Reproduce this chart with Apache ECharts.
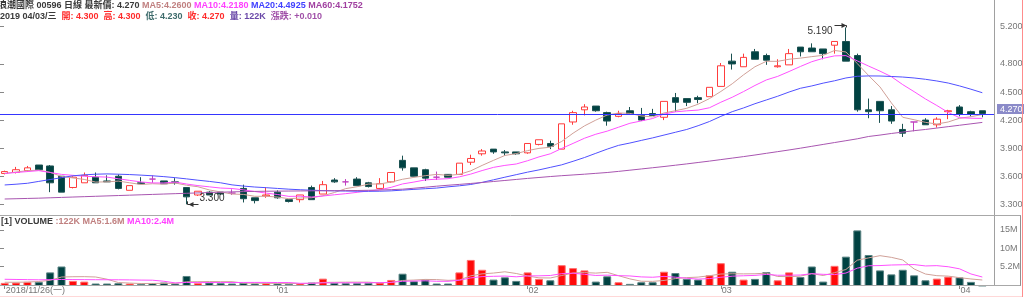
<!DOCTYPE html>
<html><head><meta charset="utf-8">
<script src="https://cdn.jsdelivr.net/npm/echarts@6/dist/echarts.min.js"></script>
<style>html,body{margin:0;padding:0;background:#fff;overflow:hidden}#c{width:1024px;height:297px}</style>
</head><body><div id="c"></div>
<script>
const dates = ['2018/11/26','2018/11/27','2018/11/28','2018/11/29','2018/11/30',
'2018/12/03','2018/12/04','2018/12/05','2018/12/06','2018/12/07',
'2018/12/10','2018/12/11','2018/12/12','2018/12/13','2018/12/14',
'2018/12/17','2018/12/18','2018/12/19','2018/12/20','2018/12/21',
'2018/12/24','2018/12/27','2018/12/28','2018/12/31',
'2019/01/02','2019/01/03','2019/01/04','2019/01/07','2019/01/08','2019/01/09','2019/01/10','2019/01/11',
'2019/01/14','2019/01/15','2019/01/16','2019/01/17','2019/01/18',
'2019/01/21','2019/01/22','2019/01/23','2019/01/24','2019/01/25',
'2019/01/28','2019/01/29','2019/01/30','2019/01/31',
'2019/02/01','2019/02/04','2019/02/08',
'2019/02/11','2019/02/12','2019/02/13','2019/02/14','2019/02/15',
'2019/02/18','2019/02/19','2019/02/20','2019/02/21','2019/02/22',
'2019/02/25','2019/02/26','2019/02/27','2019/02/28',
'2019/03/01',
'2019/03/04','2019/03/05','2019/03/06','2019/03/07','2019/03/08',
'2019/03/11','2019/03/12','2019/03/13','2019/03/14','2019/03/15',
'2019/03/18','2019/03/19','2019/03/20','2019/03/21','2019/03/22',
'2019/03/25','2019/03/26','2019/03/27','2019/03/28','2019/03/29',
'2019/04/01','2019/04/02','2019/04/03'];

const opens = [3.63,3.64,3.66,3.72,3.71,3.60,3.48,3.53,3.59,3.55,
3.60,3.45,3.53,3.57,3.55,3.54,3.48,3.40,3.43,3.43,
3.42,3.47,3.37,3.39,3.43,3.35,3.35,3.48,3.41,3.56,
3.54,3.57,3.53,3.47,3.54,3.77,3.69,3.67,3.59,3.62,
3.62,3.75,3.84,3.89,3.86,3.86,3.85,3.94,3.95,3.89,
4.18,4.31,4.35,4.28,4.24,4.30,4.25,4.27,4.23,4.44,
4.43,4.44,4.45,4.56,4.83,4.77,4.93,4.89,4.77,4.79,
4.98,4.97,4.96,5.00,5.04,4.89,4.31,4.40,4.31,4.10,
4.18,4.20,4.15,4.29,4.34,4.29,4.30];
const closes = [3.65,3.67,3.69,3.67,3.53,3.43,3.59,3.61,3.53,3.54,
3.47,3.50,3.52,3.57,3.52,3.53,3.38,3.44,3.40,3.41,
3.42,3.36,3.34,3.40,3.37,3.33,3.40,3.35,3.51,3.54,
3.54,3.50,3.49,3.52,3.64,3.69,3.60,3.58,3.59,3.59,
3.74,3.79,3.87,3.86,3.85,3.84,3.95,3.99,3.92,4.16,
4.28,4.34,4.30,4.19,4.27,4.26,4.20,4.25,4.40,4.39,
4.39,4.42,4.55,4.78,4.80,4.87,4.85,4.84,4.78,4.91,
4.93,4.93,4.91,5.04,4.83,4.31,4.29,4.30,4.19,4.06,
4.18,4.15,4.21,4.30,4.26,4.26,4.27];
const lows = [3.62,3.63,3.65,3.67,3.43,3.43,3.47,3.53,3.53,3.54,
3.46,3.45,3.52,3.53,3.52,3.51,3.30,3.39,3.40,3.40,
3.40,3.32,3.31,3.37,3.36,3.32,3.32,3.35,3.41,3.53,
3.50,3.50,3.48,3.46,3.53,3.66,3.60,3.55,3.56,3.59,
3.62,3.72,3.82,3.84,3.82,3.83,3.84,3.93,3.89,3.89,
4.15,4.25,4.29,4.14,4.23,4.26,4.19,4.25,4.20,4.29,
4.35,4.38,4.45,4.56,4.74,4.77,4.85,4.79,4.76,4.79,
4.88,4.93,4.85,4.91,4.83,4.29,4.22,4.17,4.16,4.02,
4.08,4.15,4.12,4.21,4.24,4.24,4.23];
const highs = [3.66,3.70,3.71,3.72,3.72,3.60,3.60,3.64,3.64,3.61,
3.62,3.50,3.59,3.61,3.55,3.58,3.48,3.44,3.44,3.43,
3.46,3.51,3.37,3.48,3.45,3.35,3.40,3.50,3.55,3.58,
3.57,3.59,3.54,3.58,3.64,3.82,3.69,3.68,3.65,3.62,
3.74,3.83,3.89,3.89,3.88,3.86,3.95,3.99,3.98,4.16,
4.30,4.37,4.35,4.29,4.30,4.34,4.33,4.32,4.40,4.49,
4.43,4.46,4.55,4.81,4.91,4.91,4.96,4.91,4.85,4.96,
4.98,5.02,4.96,5.04,5.19,4.91,4.43,4.40,4.35,4.16,
4.18,4.22,4.23,4.31,4.36,4.30,4.30];

const ma5 = [3.630,3.645,3.660,3.665,3.642,3.598,3.582,3.566,3.538,3.540,
3.548,3.530,3.512,3.520,3.516,3.528,3.504,3.488,3.454,3.432,
3.410,3.406,3.386,3.386,3.378,3.360,3.368,3.370,3.392,3.426,
3.468,3.488,3.516,3.518,3.538,3.568,3.588,3.606,3.620,3.610,
3.620,3.658,3.716,3.770,3.822,3.842,3.874,3.898,3.910,3.972,
4.060,4.138,4.200,4.254,4.276,4.272,4.244,4.234,4.276,4.300,
4.326,4.370,4.430,4.506,4.588,4.684,4.770,4.828,4.828,4.850,
4.862,4.878,4.892,4.944,4.928,4.804,4.676,4.554,4.384,4.230,
4.204,4.176,4.158,4.180,4.220,4.236,4.260];
const ma10 = [3.630,3.640,3.650,3.660,3.640,3.620,3.610,3.600,3.595,3.591,
3.573,3.556,3.539,3.529,3.528,3.538,3.517,3.500,3.487,3.474,
3.469,3.455,3.437,3.420,3.405,3.385,3.387,3.378,3.389,3.402,
3.414,3.428,3.443,3.455,3.482,3.518,3.538,3.561,3.569,3.574,
3.594,3.623,3.661,3.695,3.716,3.731,3.766,3.807,3.840,3.897,
3.951,4.006,4.049,4.082,4.124,4.166,4.191,4.217,4.265,4.288,
4.299,4.307,4.332,4.391,4.444,4.505,4.570,4.629,4.667,4.719,
4.773,4.824,4.860,4.886,4.889,4.833,4.777,4.723,4.664,4.579,
4.504,4.426,4.356,4.282,4.225,4.220,4.218];
const ma20 = [3.507,3.515,3.525,3.545,3.565,3.585,3.605,3.615,3.622,3.625,
3.622,3.618,3.612,3.605,3.596,3.585,3.572,3.558,3.545,3.530,
3.508,3.495,3.485,3.478,3.470,3.462,3.456,3.451,3.447,3.444,
3.442,3.440,3.439,3.440,3.444,3.452,3.460,3.467,3.474,3.487,
3.498,3.512,3.535,3.562,3.590,3.617,3.644,3.668,3.695,3.722,
3.760,3.800,3.845,3.890,3.930,3.955,3.983,4.010,4.040,4.070,
4.100,4.140,4.185,4.240,4.290,4.330,4.375,4.415,4.455,4.500,
4.540,4.565,4.595,4.620,4.650,4.668,4.672,4.671,4.666,4.660,
4.650,4.636,4.618,4.596,4.565,4.530,4.4925];
const ma60 = [3.357,3.360,3.363,3.366,3.370,3.374,3.378,3.382,3.386,3.390,
3.394,3.398,3.402,3.406,3.410,3.414,3.418,3.422,3.426,3.430,
3.433,3.436,3.438,3.440,3.441,3.442,3.443,3.444,3.445,3.446,
3.447,3.448,3.450,3.453,3.457,3.462,3.472,3.483,3.494,3.504,
3.513,3.523,3.533,3.544,3.555,3.566,3.577,3.587,3.597,3.606,
3.614,3.622,3.631,3.640,3.652,3.665,3.678,3.691,3.704,3.718,
3.732,3.747,3.762,3.778,3.794,3.810,3.827,3.845,3.863,3.881,
3.900,3.920,3.940,3.960,3.980,4.000,4.025,4.040,4.057,4.072,
4.087,4.100,4.115,4.130,4.145,4.160,4.1752];

// volume in millions of shares
const volumes = [0.83,0.92,1.10,1.10,3.64,5.22,1.36,1.18,0.66,0.66,
0.75,0.66,0.57,0.75,0.92,0.66,2.68,0.75,0.92,0.75,
0.66,0.83,0.66,0.75,0.66,0.57,0.66,0.92,1.97,0.83,
0.75,0.75,0.83,0.92,1.62,3.29,1.27,1.71,0.66,0.66,
3.64,6.97,4.34,1.71,2.32,1.36,3.64,1.89,1.53,5.57,
4.78,4.17,1.18,2.59,1.01,0.57,1.01,1.01,3.82,3.47,
1.89,1.71,2.85,6.10,3.82,1.71,1.89,3.73,1.53,3.64,
2.41,5.22,1.18,5.39,7.85,14.87,8.29,4.17,3.11,4.34,
2.85,1.53,1.97,2.50,2.30,1.10,0.122];
const volMa5 = [1.00,1.00,1.05,1.20,1.52,2.40,2.48,2.50,2.41,1.82,
0.92,0.78,0.66,0.68,0.73,0.71,1.12,1.15,1.19,1.15,
1.15,0.78,0.76,0.73,0.71,0.69,0.66,0.71,0.96,0.99,
1.03,1.04,1.03,0.82,0.97,1.48,1.59,1.76,1.71,1.52,
1.59,2.73,3.25,3.46,3.80,3.34,2.67,2.18,2.15,2.80,
3.48,3.59,3.45,3.66,2.75,1.90,1.27,1.24,1.48,1.98,
2.24,2.38,2.75,3.20,3.27,3.24,3.27,3.45,2.54,2.50,
2.64,3.31,2.80,3.57,4.41,6.90,7.52,8.11,7.66,6.96,
4.55,3.20,2.76,2.64,2.23,1.88,1.60];
const volMa10 = [1.80,1.75,1.70,1.65,1.70,1.75,1.72,1.70,1.68,1.67,
1.66,1.63,1.58,1.55,1.27,0.82,0.95,0.91,0.93,0.94,
0.93,0.95,0.96,0.96,0.93,0.92,0.72,0.74,0.84,0.85,
0.86,0.85,0.87,0.89,0.98,1.25,1.32,1.39,1.26,1.25,
1.54,2.16,2.51,2.59,2.66,2.46,2.70,2.72,2.81,3.30,
3.41,3.13,2.82,2.90,2.77,2.69,2.43,2.34,2.57,2.36,
2.07,1.83,1.99,2.34,2.63,2.74,2.83,3.10,2.87,2.89,
2.94,3.29,3.12,3.05,3.46,4.77,5.41,5.46,5.61,5.68,
5.73,5.36,5.44,5.15,4.59,3.22,2.40];

const priceTicks = [3.3,3.6,3.9,4.2,4.5,4.8,5.2];
const volTicks = [5.2,10,15];

const FF = "'Liberation Sans','Noto Sans CJK TC',sans-serif";
const C_UP = '#ff3c3c', C_DN = '#004242', C_DOJI = '#c040c0';
const C_MA5 = '#d0a098', C_MA10 = '#ff50ff', C_MA20 = '#5050ff', C_MA60 = '#a855b0';
const C_LAST = '#3535ff';
const N = dates.length, L = N - 1;
const last = closes[L];
const yMin = 3.1754, yMax = 5.4831, volMax = 18.58;

const wk = ['日','一','二','三','四','五','六'];
function weekday(d){ const p=d.split('/').map(Number); return wk[new Date(Date.UTC(p[0],p[1]-1,p[2])).getUTCDay()]; }
function showX(i){ if(i===0) return true; if(i<10) return false; return dates[i].slice(5,7)!==dates[i-1].slice(5,7); }
function fmtVol(v){ return v<1 ? Math.round(v*1000)+'K' : v.toFixed(1)+'M'; }

const candleData = opens.map((o,i)=>[o, closes[i], lows[i], highs[i]]);
let hiIdx=0, loIdx=0;
highs.forEach((h,i)=>{ if(h>highs[hiIdx]) hiIdx=i; });
lows.forEach((l,i)=>{ if(l<lows[loIdx]) loIdx=i; });

const chart = echarts.init(document.getElementById('c'), null, {renderer:'canvas'});
const T = {fontSize:9, fontFamily:FF, lineHeight:11};
const line1 = '{g|浪潮國際 00596 日線 最新價: '+last.toFixed(3)+'} {a|MA5:'+ma5[L].toFixed(4)+'} {b|MA10:'+ma10[L].toFixed(4)+'} {c|MA20:'+ma20[L].toFixed(4)+'} {d|MA60:'+ma60[L].toFixed(4)+'}';
const dl = dates[L];
const chg = closes[L]-closes[L-1];
const S = '  ';
const line2 = '{g|'+dl.slice(0,4)+' '+dl.slice(5)+'/'+weekday(dl)+'}'+S+'{r|開: '+opens[L].toFixed(3)+'}'+S+'{r|高: '+highs[L].toFixed(3)+'}'+S+'{t|低: '+lows[L].toFixed(3)+'}'+S+'{r|收: '+closes[L].toFixed(3)+'}'+S+'{v|量: '+fmtVol(volumes[L])+'}'+S+'{p|漲跌: '+(chg>=0?'+':'')+chg.toFixed(3)+'}';
const line3 = '{g|[1] VOLUME} {a|:'+fmtVol(volumes[L])+' MA5:'+fmtVol(volMa5[L])+'} {b|MA10:'+fmtVol(volMa10[L])+'}';
const rich = {
  g:Object.assign({color:'#3a3a3a'},T), a:Object.assign({color:'#c08080'},T), b:Object.assign({color:'#ff40ff'},T),
  c:Object.assign({color:'#4040ff'},T), d:Object.assign({color:'#a040a0'},T), r:Object.assign({color:'#ff2a2a'},T),
  t:Object.assign({color:'#3d6b6b'},T), v:Object.assign({color:'#6a48a8'},T), p:Object.assign({color:'#a050a8'},T)
};

const lineS = (name, data, color, xi, yi) => ({name, type:'line', data, xAxisIndex:xi, yAxisIndex:yi, symbol:'none', showSymbol:false, silent:true, z:4, color, lineStyle:{color, width:1}, animation:false});
const G = {outerBoundsMode:'none', containLabel:false};

const option = {
  animation:false,
  title:[
    {text:line1, left:-2, top:0.5, padding:0, textStyle:Object.assign({rich},T)},
    {text:line2, left:0, top:11.5, padding:0, textStyle:Object.assign({rich},T)},
    {text:line3, left:1, top:216.5, padding:0, textStyle:Object.assign({rich},T)}
  ],
  grid:[
    Object.assign({left:0, right:29, top:0, height:216}, G),
    Object.assign({left:-1, width:989, top:0, height:216}, G),
    Object.assign({left:0, right:29, top:216.5, height:69.5}, G),
    Object.assign({left:-1, width:989, top:216.5, height:69.5}, G)
  ],
  xAxis:[
    {gridIndex:0, type:'value', min:0, max:1, show:false},
    {gridIndex:1, type:'category', data:dates, boundaryGap:true, show:false},
    {gridIndex:2, type:'value', min:0, max:1, show:false},
    {gridIndex:3, type:'category', data:dates, boundaryGap:true,
      axisLine:{show:false},
      axisTick:{show:true, alignWithLabel:true, interval:(i)=>showX(i), length:3, lineStyle:{color:'#888'}},
      axisLabel:{interval:(i)=>showX(i), align:'left', margin:0, padding:[0,0,0,1], fontSize:9, fontFamily:FF, color:'#777',
        formatter:(v,i)=> i===0 ? v+'('+weekday(v)+')' : v.slice(5,7)}}
  ],
  yAxis:[
    {gridIndex:0, type:'value', position:'right', min:yMin, max:yMax, axisLine:{show:false}, splitLine:{show:false},
      axisTick:{show:true, customValues:priceTicks, length:4, lineStyle:{color:'#888'}},
      axisLabel:{customValues:priceTicks, margin:5, fontSize:9, fontFamily:FF, color:'#777', formatter:(v)=>v.toFixed(3)}},
    {gridIndex:1, type:'value', min:yMin, max:yMax, show:false},
    {gridIndex:2, type:'value', position:'right', min:0, max:volMax, axisLine:{show:false}, splitLine:{show:false},
      axisTick:{show:true, customValues:volTicks, length:4, lineStyle:{color:'#888'}},
      axisLabel:{customValues:volTicks, margin:5, fontSize:9, fontFamily:FF, color:'#777', formatter:(v)=>v+'M'}},
    {gridIndex:3, type:'value', min:0, max:volMax, show:false}
  ],
  series:[
    {name:'K', type:'candlestick', xAxisIndex:1, yAxisIndex:1, data:candleData, barWidth:7, z:3,
      itemStyle:{color:'#ffffff', color0:C_DN, borderColor:C_UP, borderColor0:'#1c5252', borderColorDoji:C_DOJI, borderWidth:1}},
    lineS('MA5', ma5, C_MA5, 1, 1),
    lineS('MA10', ma10, C_MA10, 1, 1),
    lineS('MA20', ma20, C_MA20, 1, 1),
    lineS('MA60', ma60, C_MA60, 1, 1),
    {name:'last', type:'custom', xAxisIndex:0, yAxisIndex:0, data:[[0, last]], clip:false, z:5, silent:true,
      renderItem:function(params, api){
        const v = api.value(1);
        const a = api.coord([0, v]), b = api.coord([1, v]);
        const y = Math.round(a[1]) + 0.5;
        return {type:'group', children:[
          {type:'line', shape:{x1:a[0], y1:y, x2:b[0], y2:y}, style:{stroke:C_LAST, lineWidth:1}},
          {type:'text', x:b[0]+2, y:y-0.5, style:{text:v.toFixed(3), fill:'#ffffff', backgroundColor:'#8b8bc9', padding:[1,3,0,3], align:'left', verticalAlign:'bottom', fontSize:9, fontFamily:FF}}
        ]};
      }},
    {name:'VOL', type:'bar', xAxisIndex:3, yAxisIndex:3, barWidth:8, z:3,
      data:volumes.map((v,i)=>({value:v, itemStyle: closes[i]>opens[i] ? {color:'#ff0a0a', borderColor:'#ff7070', borderWidth:1} : {color:C_DN, borderColor:'#5a8484', borderWidth:1}}))},
    lineS('VMA5', volMa5, C_MA5, 3, 3),
    lineS('VMA10', volMa10, C_MA10, 3, 3),
    {name:'marks', type:'custom', xAxisIndex:1, yAxisIndex:1, clip:false, z:6, silent:true,
      data:[[hiIdx, highs[hiIdx], 1],[loIdx, lows[loIdx], -1]],
      renderItem:function(params, api){
        const idx=api.value(0), val=api.value(1), kind=api.value(2);
        const p=api.coord([idx,val]); const x=Math.round(p[0])+0.5; const col='#333';
        if(kind>0){
          const y=Math.round(p[1]-2)+0.5;
          return {type:'group', children:[
            {type:'polyline', shape:{points:[[x-12,y],[x,y],[x,p[1]]]}, style:{stroke:col, lineWidth:1, fill:null}},
            {type:'polygon', shape:{points:[[x,y],[x-5,y-2.5],[x-5,y+2.5]]}, style:{fill:col}},
            {type:'text', x:x-14, y:p[1]+4, style:{text:val.toFixed(3), align:'right', verticalAlign:'middle', fontSize:10, fontFamily:FF, fill:col}}
          ]};
        } else {
          const y=Math.round(p[1])+0.5;
          return {type:'group', children:[
            {type:'polyline', shape:{points:[[x,p[1]-3],[x,y],[x+11,y]]}, style:{stroke:col, lineWidth:1, fill:null}},
            {type:'polygon', shape:{points:[[x+1,y],[x+6,y-2.5],[x+6,y+2.5]]}, style:{fill:col}},
            {type:'text', x:x+12, y:p[1]-6, style:{text:val.toFixed(3), align:'left', verticalAlign:'middle', fontSize:10, fontFamily:FF, fill:col}}
          ]};
        }
      }}
  ],
  graphic:[
    {type:'line', z:100, silent:true, shape:{x1:994.5,y1:0,x2:994.5,y2:286}, style:{stroke:'#a0a0a0', lineWidth:1}},
    {type:'line', z:100, silent:true, shape:{x1:0,y1:215.5,x2:1021,y2:215.5}, style:{stroke:'#a8a8a8', lineWidth:1}},
    {type:'line', z:100, silent:true, shape:{x1:0,y1:285.5,x2:1021,y2:285.5}, style:{stroke:'#a8a8a8', lineWidth:1}},
    {type:'line', z:100, silent:true, shape:{x1:1020.5,y1:215.5,x2:1020.5,y2:285.5}, style:{stroke:'#909090', lineWidth:1}},
    {type:'line', z:100, silent:true, shape:{x1:1022.5,y1:0,x2:1022.5,y2:297}, style:{stroke:'#ff8c8c', lineWidth:1}},
    {type:'line', z:100, silent:true, shape:{x1:0,y1:296.5,x2:1022,y2:296.5}, style:{stroke:'#ffd8d8', lineWidth:1}}
  ]
};
chart.setOption(option);
</script>
</body></html>
